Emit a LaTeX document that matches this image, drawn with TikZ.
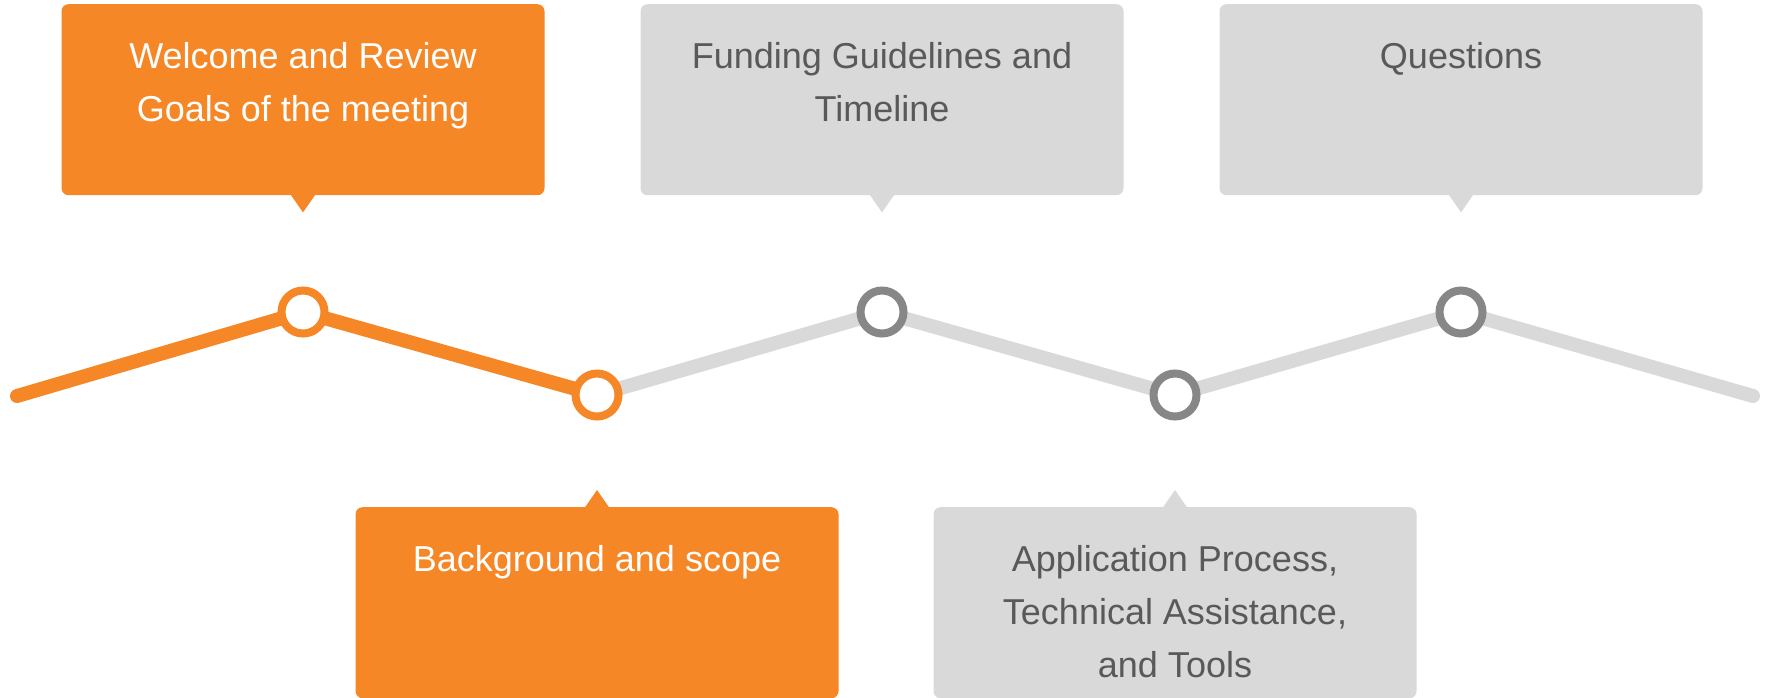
\documentclass[tikz,border=0pt]{standalone}
\usepackage{fontspec}
\setmainfont{Liberation Sans}
\usepackage{xcolor}
\usepackage{tikz}
\usetikzlibrary{
  positioning,
  backgrounds
}
\definecolor{agendaorange}{HTML}{F58726}
\definecolor{agendagray}{HTML}{D9D9D9}
\definecolor{ringgray}{HTML}{878787}
\definecolor{textgray}{HTML}{595959}

\begin{document}
\begin{tikzpicture}[
          x=1pt,y=-1pt,
          box/.style={
              rectangle,
              rounded corners=7pt,
              minimum width=483pt,
              minimum height=191pt,
              inner sep=0pt,
              fill=#1
            },caption/.style={
              align=center,
              inner sep=0pt,
              text=#1,
              font=\fontsize{36}{53}\selectfont
            },stop/.style={
              circle,
              draw=#1,
              line width=8pt,
              fill=white,
              minimum size=43pt,
              inner sep=0pt
            },track/.style={
              draw=#1,
              line width=14pt,
              line cap=round,
              line join=round
            }
        ]
        % 描画範囲
        \useasboundingbox (0,0) rectangle (1768,697);

        % 上の吹き出し
        \node[box=agendaorange, anchor=north] (welcome) at (303,4) {};
        \node[box=agendagray, anchor=north] (funding) at (882,4) {};
        \node[box=agendagray, anchor=north] (questions) at (1461,4) {};
        \fill[agendaorange] ([xshift=-12.5pt,yshift=1pt]welcome.south) -- ([xshift=12.5pt,yshift=1pt]welcome.south) -- ([yshift=-17pt]welcome.south) -- cycle;
        \fill[agendagray] ([xshift=-12.5pt,yshift=1pt]funding.south) -- ([xshift=12.5pt,yshift=1pt]funding.south) -- ([yshift=-17pt]funding.south) -- cycle;
        \fill[agendagray] ([xshift=-12.5pt,yshift=1pt]questions.south) -- ([xshift=12.5pt,yshift=1pt]questions.south) -- ([yshift=-17pt]questions.south) -- cycle;

        % 下の吹き出し
        \node[box=agendaorange, anchor=north] (background) at (597,507) {};
        \node[box=agendagray, anchor=north] (application) at (1175,507) {};
        \fill[agendaorange] ([xshift=-12.5pt,yshift=-1pt]background.north) -- ([xshift=12.5pt,yshift=-1pt]background.north) -- ([yshift=17pt]background.north) -- cycle;
        \fill[agendagray] ([xshift=-12.5pt,yshift=-1pt]application.north) -- ([xshift=12.5pt,yshift=-1pt]application.north) -- ([yshift=17pt]application.north) -- cycle;

        % 文字
        \node[caption=white, below=38pt of welcome.north] (welcome_text) {Welcome and Review\\Goals of the meeting};
        \node[caption=textgray, below=38pt of funding.north] (funding_text) {Funding Guidelines and\\Timeline};
        \node[caption=textgray, below=38pt of questions.north] (questions_text) {Questions};
        \node[caption=white, below=38pt of background.north] (background_text) {Background and scope};
        \node[caption=textgray, below=38pt of application.north] (application_text) {Application Process,\\Technical Assistance,\\and Tools};

        % 折れ線の点
        \coordinate (track_start) at (17,396);
        \coordinate (track_end) at (1753,396);
        \node[stop=agendaorange] (stop_1) at (303,312) {};
        \node[stop=agendaorange] (stop_2) at (597,395) {};
        \node[stop=ringgray] (stop_3) at (882,312) {};
        \node[stop=ringgray] (stop_4) at (1175,395) {};
        \node[stop=ringgray] (stop_5) at (1461,312) {};

        % 折れ線
        \begin{scope}[on background layer]
          \draw[track=agendagray] (stop_2.center) -- (stop_3.center) -- (stop_4.center) -- (stop_5.center) -- (track_end);
          \draw[track=agendaorange] (track_start) -- (stop_1.center) -- (stop_2.center);
        \end{scope}

      \end{tikzpicture}
\end{document}
